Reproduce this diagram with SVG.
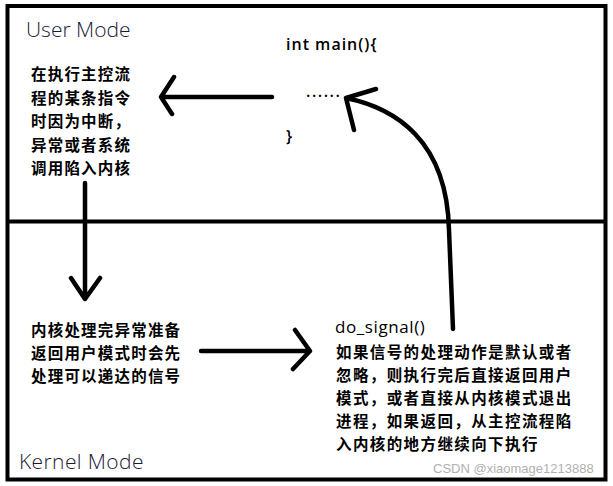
<svg xmlns="http://www.w3.org/2000/svg" width="613" height="486" viewBox="0 0 613 486">
<style>
.frame{fill:none;stroke:#000;stroke-width:4}
.conn{fill:none;stroke:#000;stroke-width:4.5;stroke-linecap:round;stroke-linejoin:round}
.mode{font-family:"Open Sans","DejaVu Sans",sans-serif;font-size:21px;font-weight:300;fill:#1a1a33}
.code{font-family:"Open Sans","DejaVu Sans",sans-serif;font-size:16px;font-weight:600;fill:#000;letter-spacing:1px}
.cn{font-family:"Noto Sans CJK SC",sans-serif;font-size:15.5px;font-weight:700;fill:#000;letter-spacing:1.2px}
.wm{font-family:"Liberation Sans",Arial,sans-serif;font-size:13px;fill:#b0b0b0}
</style>
<rect width="613" height="486" fill="#fff"/>
<g id="frame">
<rect class="frame" x="7.5" y="6" width="598" height="473.5"/>
<line class="frame" x1="7.5" y1="221.5" x2="605.5" y2="221.5"/>
</g>
<g id="user-mode"><text class="mode" x="26" y="37">User Mode</text></g>
<g id="kernel-mode"><text class="mode" x="19" y="469" style="letter-spacing:0.4px">Kernel Mode</text></g>
<g id="main-code">
<text class="code" x="286" y="50">int main(){</text>
<text class="code" x="306" y="97" style="letter-spacing:1.5px">......</text>
<text class="code" x="286" y="142">}</text>
</g>
<g id="trap-text">
<text class="cn" x="31" y="80">在执行主控流</text>
<text class="cn" x="31" y="103.5">程的某条指令</text>
<text class="cn" x="31" y="127">时因为中断，</text>
<text class="cn" x="31" y="150.5">异常或者系统</text>
<text class="cn" x="31" y="174">调用陷入内核</text>
</g>
<g id="kernel-text">
<text class="cn" x="31" y="336">内核处理完异常准备</text>
<text class="cn" x="31" y="359">返回用户模式时会先</text>
<text class="cn" x="31" y="382">处理可以递达的信号</text>
</g>
<g id="do-signal">
<text class="code" x="335" y="333" style="font-weight:400;font-size:17px;letter-spacing:0.6px">do_signal()</text>
<text class="cn" x="336" y="358" style="letter-spacing:1.4px">如果信号的处理动作是默认或者</text>
<text class="cn" x="336" y="381" style="letter-spacing:1.4px">忽略，则执行完后直接返回用户</text>
<text class="cn" x="336" y="404" style="letter-spacing:1.4px">模式，或者直接从内核模式退出</text>
<text class="cn" x="336" y="427" style="letter-spacing:1.4px">进程，如果返回，从主控流程陷</text>
<text class="cn" x="336" y="450" style="letter-spacing:1.4px">入内核的地方继续向下执行</text>
</g>
<g id="connectors">
<path class="conn" d="M272,97 L161,97 M174,77 L161,97 L172,114"/>
<path class="conn" d="M85,183 L85,299 M71,278 L85,299 L100,278"/>
<path class="conn" d="M201,351 L310,351 M295,330 L310,351 L293,369"/>
<path class="conn" d="M453,329 L449,230 C447,140 395,108 346,98 M376,89 L346,98 L354,130"/>
</g>
<g id="watermark"><text class="wm" x="433" y="473">CSDN @xiaomage1213888</text></g>
</svg>
